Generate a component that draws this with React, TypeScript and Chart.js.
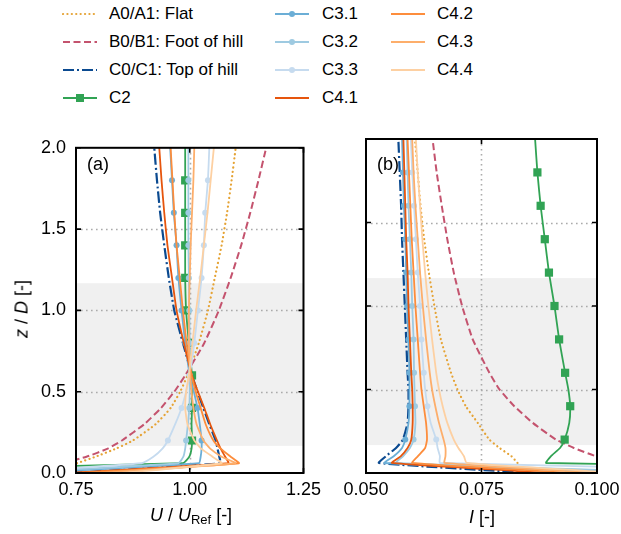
import React, { useEffect, useRef } from 'react';
import { Chart, registerables } from 'chart.js';

Chart.register(...registerables);

// ---------- data ----------
const Z = [0, 0.06, 0.1, 0.15, 0.2, 0.3, 0.4, 0.5, 0.6, 0.8, 1.0, 1.2, 1.4, 1.6, 1.8, 2.0];
const MARKER_Z = [0.2, 0.4, 0.6, 0.8, 1.0, 1.2, 1.4, 1.6, 1.8];

const SERIES_NAMES = ['A0/A1: Flat', 'B0/B1: Foot of hill', 'C0/C1: Top of hill', 'C2', 'C3.1', 'C3.2', 'C3.3', 'C4.1', 'C4.2', 'C4.3', 'C4.4'];

// U / U_Ref  (panel a)
const A0_U = [null, 0.752, 0.793, 0.838, 0.875, 0.925, 0.958, 0.979, 0.995, 1.02, 1.04, 1.055, 1.07, 1.082, 1.092, 1.101];
const B0_U = [null, 0.72, 0.773, 0.82, 0.851, 0.9, 0.937, 0.966, 0.99, 1.032, 1.064, 1.09, 1.113, 1.133, 1.151, 1.168];
const C0_U = [0.74, 1.067, 1.065, 1.061, 1.057, 1.043, 1.03, 1.017, 1.005, 0.985, 0.966, 0.954, 0.944, 0.935, 0.928, 0.922];
const C2_U = [0.06, 0.985, 0.999, 1.004, 1.005, 1.004, 1.005, 1.005, 1.005, 0.998, 0.992, 0.99, 0.99, 0.99, 0.99, 0.99];
const C31_U = [0.634, 1.02, 1.024, 1.026, 1.026, 1.022, 1.017, 1.009, 1.0, 0.99, 0.982, 0.975, 0.971, 0.965, 0.961, 0.957];
const C32_U = [0.589, 0.975, 0.986, 0.99, 0.992, 0.996, 0.999, 1.0, 1.0, 1.0, 0.999, 0.998, 0.997, 0.997, 0.997, 0.997];
const C33_U = [0.564, 0.894, 0.92, 0.94, 0.952, 0.968, 0.982, 0.992, 1.0, 1.01, 1.018, 1.026, 1.031, 1.034, 1.04, 1.043];
const C41_U = [0.73, 1.085, 1.078, 1.068, 1.06, 1.045, 1.032, 1.018, 1.005, 0.987, 0.971, 0.961, 0.951, 0.944, 0.938, 0.933];
const C42_U = [0.75, 1.108, 1.09, 1.068, 1.052, 1.035, 1.024, 1.013, 1.004, 0.993, 0.985, 0.978, 0.971, 0.966, 0.962, 0.958];
const C43_U = [0.8, 1.1, 1.07, 1.045, 1.03, 1.015, 1.008, 1.004, 1.001, 0.998, 0.998, 1.0, 1.002, 1.005, 1.008, 1.01];
const C44_U = [0.85, 1.07, 1.05, 1.025, 1.01, 0.995, 0.99, 0.992, 0.998, 1.006, 1.014, 1.023, 1.031, 1.039, 1.046, 1.053];

// I (panel b)
const A0_I = [null, 0.0828, 0.0815, 0.0789, 0.0767, 0.0742, 0.0716, 0.0698, 0.0684, 0.0662, 0.0648, 0.0636, 0.0626, 0.0618, 0.0612, 0.0606];
const B0_I = [null, 0.106, 0.0998, 0.095, 0.0911, 0.0861, 0.0821, 0.0789, 0.0767, 0.0731, 0.0708, 0.069, 0.0676, 0.0664, 0.0653, 0.0644];
const C0_I = [0.086, 0.0528, 0.0543, 0.0565, 0.058, 0.059, 0.0592, 0.0592, 0.059, 0.0587, 0.0584, 0.0581, 0.0578, 0.0576, 0.0573, 0.057];
const C2_I = [0.22, 0.089, 0.09, 0.092, 0.093, 0.094, 0.0942, 0.0938, 0.0931, 0.0918, 0.0908, 0.0896, 0.0887, 0.0878, 0.0871, 0.0866];
const C31_I = [0.1115, 0.054, 0.056, 0.0578, 0.0585, 0.0592, 0.0594, 0.0594, 0.0594, 0.0592, 0.0589, 0.0587, 0.0585, 0.0582, 0.058, 0.0578];
const C32_I = [0.122, 0.0565, 0.058, 0.0595, 0.0603, 0.0607, 0.0606, 0.0605, 0.0604, 0.0603, 0.06, 0.0598, 0.0595, 0.0592, 0.059, 0.0588];
const C33_I = [0.168, 0.066, 0.066, 0.0655, 0.0652, 0.064, 0.0633, 0.0628, 0.0625, 0.062, 0.0617, 0.0612, 0.0608, 0.0604, 0.06, 0.0597];
const C41_I = [0.09, 0.0556, 0.0575, 0.059, 0.0598, 0.0601, 0.0601, 0.06, 0.0598, 0.0595, 0.0592, 0.059, 0.0587, 0.0585, 0.0583, 0.0581];
const C42_I = [0.095, 0.06, 0.0612, 0.0628, 0.0632, 0.063, 0.0625, 0.062, 0.0617, 0.0612, 0.0607, 0.0603, 0.0599, 0.0596, 0.0593, 0.059];
const C43_I = [0.1, 0.067, 0.0672, 0.0672, 0.0668, 0.0658, 0.065, 0.0643, 0.0638, 0.063, 0.0623, 0.0617, 0.0612, 0.0607, 0.0603, 0.06];
const C44_I = [0.105, 0.0718, 0.0712, 0.07, 0.069, 0.0676, 0.0666, 0.0658, 0.0652, 0.0643, 0.0635, 0.0628, 0.0622, 0.0617, 0.0612, 0.0608];

const U_SERIES = [A0_U, B0_U, C0_U, C2_U, C31_U, C32_U, C33_U, C41_U, C42_U, C43_U, C44_U];
const I_SERIES = [A0_I, B0_I, C0_I, C2_I, C31_I, C32_I, C33_I, C41_I, C42_I, C43_I, C44_I];

const Y_TICKS = [0, 0.5, 1.0, 1.5, 2.0];
const X_TICKS_A = [0.75, 1.0, 1.25];
const X_TICKS_B = [0.05, 0.075, 0.1];
const GRID_Y = [0.5, 1.0, 1.5];
const GRID_X_A = [1.0];
const GRID_X_B = [0.075];
const ROTOR_BAND = [0.167, 1.167];

// ---------- styles ----------
const FONT = "'Liberation Sans', Arial, Helvetica, sans-serif";
const TICK_SIZE = 18;
const STYLES = [
  { color: '#e5a335', dash: [0.1, 4.3], width: 2.2, marker: null, cap: 'round' },
  { color: '#c4536e', dash: [7, 3.5], width: 2, marker: null, cap: 'butt' },
  { color: '#0b4a90', dash: [11, 3, 2, 3], width: 2.2, marker: null, cap: 'butt' },
  { color: '#31a354', dash: [], width: 1.8, marker: 'rect', cap: 'butt' },
  { color: '#6baed6', dash: [], width: 1.8, marker: 'circle', cap: 'butt' },
  { color: '#9ecae1', dash: [], width: 1.8, marker: 'circle', cap: 'butt' },
  { color: '#c6dbef', dash: [], width: 1.8, marker: 'circle', cap: 'butt' },
  { color: '#e6550d', dash: [], width: 1.8, marker: null, cap: 'butt' },
  { color: '#fd8d3c', dash: [], width: 1.8, marker: null, cap: 'butt' },
  { color: '#fdae6b', dash: [], width: 1.8, marker: null, cap: 'butt' },
  { color: '#fdd0a2', dash: [], width: 1.8, marker: null, cap: 'butt' },
];
const LEGEND_POS = [
  [0, 0], [0, 1], [0, 2], [0, 3],
  [1, 0], [1, 1], [1, 2], [1, 3],
  [2, 0], [2, 1], [2, 2],
];
const LEG_HANDLE_X = [62, 274, 390];
const LEG_TEXT_X = [109, 322, 437];
const LEG_ROW_Y = [14, 42, 70, 98];

const isMarkerZ = (z: number) => MARKER_Z.some((m) => Math.abs(m - z) < 1e-9);

function buildDatasets(series: (number | null)[][]) {
  const ds = series.map((vals, i) => {
    const st = STYLES[i];
    const data = Z.map((z, k) => ({ x: vals[k], y: z })).filter((p) => p.x !== null);
    return {
      label: SERIES_NAMES[i],
      data,
      showLine: true,
      borderColor: st.color,
      backgroundColor: st.color,
      borderWidth: st.width,
      borderDash: st.dash,
      borderCapStyle: st.cap,
      tension: 0.15,
      fill: false,
      pointStyle: st.marker || 'circle',
      pointBorderWidth: 0,
      pointRadius: (ctx: any) => {
        if (!st.marker || !ctx.raw) return 0;
        return isMarkerZ(ctx.raw.y) ? (st.marker === 'rect' ? 5.8 : 3) : 0;
      },
      pointHoverRadius: 0,
    };
  });
  return ds.reverse(); // first series drawn underneath
}

const decorPlugin = {
  id: 'decor',
  beforeDatasetsDraw(chart: any, _args: any, opts: any) {
    const { ctx, chartArea: a, scales } = chart;
    const x = scales.x, y = scales.y;
    ctx.save();
    const yTop = y.getPixelForValue(opts.band[1]);
    const yBot = y.getPixelForValue(opts.band[0]);
    ctx.fillStyle = '#f0f0f0';
    ctx.fillRect(a.left, yTop, a.right - a.left, yBot - yTop);
    ctx.strokeStyle = '#aaaaaa';
    ctx.lineWidth = 1.6;
    ctx.setLineDash([1.6, 3.4]);
    for (const gv of opts.gridY) {
      const py = Math.round(y.getPixelForValue(gv)) + 0.5;
      ctx.beginPath();
      ctx.moveTo(a.left, py);
      ctx.lineTo(a.right, py);
      ctx.stroke();
    }
    for (const gv of opts.gridX) {
      const px = Math.round(x.getPixelForValue(gv)) + 0.5;
      ctx.beginPath();
      ctx.moveTo(px, a.top);
      ctx.lineTo(px, a.bottom);
      ctx.stroke();
    }
    ctx.restore();
  },
  afterDraw(chart: any) {
    const { ctx, chartArea: a, scales } = chart;
    const x = scales.x, y = scales.y;
    ctx.save();
    ctx.strokeStyle = '#000';
    ctx.setLineDash([]);
    ctx.lineWidth = 1.6;
    const L = 5;
    for (const t of x.ticks) {
      const px = x.getPixelForValue(t.value);
      ctx.beginPath();
      ctx.moveTo(px, a.bottom);
      ctx.lineTo(px, a.bottom - L);
      ctx.moveTo(px, a.top);
      ctx.lineTo(px, a.top + L);
      ctx.stroke();
    }
    for (const t of y.ticks) {
      const py = y.getPixelForValue(t.value);
      ctx.beginPath();
      ctx.moveTo(a.left, py);
      ctx.lineTo(a.left + L, py);
      ctx.moveTo(a.right, py);
      ctx.lineTo(a.right - L, py);
      ctx.stroke();
    }
    ctx.lineWidth = 2;
    ctx.strokeRect(a.left, a.top, a.right - a.left, a.bottom - a.top);
    ctx.restore();
  },
};

function makeConfig(series: (number | null)[][], xMin: number, xMax: number, xTicks: number[], xDigits: number, gridX: number[], showY: boolean, yWidth: number, padRight: number) {
  return {
    type: 'scatter',
    data: { datasets: buildDatasets(series) },
    plugins: [decorPlugin],
    options: {
      animation: false,
      responsive: false,
      events: [],
      layout: { padding: { top: 12, right: padRight, left: 0, bottom: 0 } },
      plugins: {
        legend: { display: false },
        tooltip: { enabled: false },
        decor: { band: ROTOR_BAND, gridY: GRID_Y, gridX },
      },
      scales: {
        x: {
          type: 'linear',
          min: xMin,
          max: xMax,
          afterBuildTicks: (s: any) => { s.ticks = xTicks.map((v) => ({ value: v })); },
          afterFit: (s: any) => { s.height = 34; },
          grid: { display: false, drawTicks: false },
          border: { display: false },
          ticks: {
            callback: (v: any) => Number(v).toFixed(xDigits),
            font: { family: FONT, size: TICK_SIZE },
            color: '#000',
            padding: 6,
            maxRotation: 0,
            autoSkip: false,
          },
        },
        y: {
          type: 'linear',
          min: 0,
          max: 2,
          afterBuildTicks: (s: any) => { s.ticks = Y_TICKS.map((v) => ({ value: v })); },
          afterFit: (s: any) => { s.width = yWidth; },
          grid: { display: false, drawTicks: false },
          border: { display: false },
          ticks: {
            display: showY,
            callback: (v: any) => Number(v).toFixed(1),
            font: { family: FONT, size: TICK_SIZE },
            color: '#000',
            padding: 10,
            autoSkip: false,
          },
        },
      },
    },
  };
}

function LegendHandle({ idx }: { idx: number }) {
  const st = STYLES[idx];
  return (
    <svg width={36} height={14} style={{ position: 'absolute', left: LEG_HANDLE_X[LEGEND_POS[idx][0]], top: LEG_ROW_Y[LEGEND_POS[idx][1]] - 7 }}>
      <line x1={1} y1={7} x2={35} y2={7} stroke={st.color} strokeWidth={st.width} strokeDasharray={st.dash.length ? st.dash.join(' ') : undefined} strokeLinecap={st.cap as any} />
      {st.marker === 'rect' && <rect x={14} y={3} width={8} height={8} fill={st.color} />}
      {st.marker === 'circle' && <circle cx={18} cy={7} r={3} fill={st.color} />}
    </svg>
  );
}

export default function App() {
  const refA = useRef<HTMLCanvasElement>(null);
  const refB = useRef<HTMLCanvasElement>(null);

  useEffect(() => {
    const a = new Chart(refA.current as HTMLCanvasElement, makeConfig(U_SERIES, 0.75, 1.25, X_TICKS_A, 2, GRID_X_A, true, 76, 20) as any);
    const b = new Chart(refB.current as HTMLCanvasElement, makeConfig(I_SERIES, 0.05, 0.1, X_TICKS_B, 3, GRID_X_B, false, 36, 53) as any);
    return () => { a.destroy(); b.destroy(); };
  }, []);

  const txt: React.CSSProperties = { position: 'absolute', fontFamily: FONT, fontSize: 17, lineHeight: '17px', color: '#000', whiteSpace: 'nowrap' };

  return (
    <div style={{ position: 'absolute', left: 0, top: 0, width: 621, height: 534, overflow: 'hidden', background: '#fff' }}>
      {SERIES_NAMES.map((n, i) => (
        <React.Fragment key={n}>
          <LegendHandle idx={i} />
          <div style={{ ...txt, left: LEG_TEXT_X[LEGEND_POS[i][0]], top: LEG_ROW_Y[LEGEND_POS[i][1]] - 9 }}>{n}</div>
        </React.Fragment>
      ))}
      <canvas ref={refA} width={327} height={380} style={{ position: 'absolute', left: 0, top: 127 }} />
      <canvas ref={refB} width={320} height={380} style={{ position: 'absolute', left: 330, top: 127 }} />
      <div style={{ ...txt, fontSize: 18, left: 87, top: 156 }}>(a)</div>
      <div style={{ ...txt, fontSize: 18, left: 377, top: 156 }}>(b)</div>
      <div style={{ ...txt, fontSize: 18, left: 22, top: 309, transform: 'translate(-50%, -50%) rotate(-90deg)' }}>
        <i>z</i> / <i>D</i> [-]
      </div>
      <div style={{ ...txt, fontSize: 18, left: 191, top: 517, transform: 'translate(-50%, -50%)' }}>
        <i>U</i> / <i>U</i><sub style={{ fontSize: 13, verticalAlign: '-3px' }}>Ref</sub> [-]
      </div>
      <div style={{ ...txt, fontSize: 18, left: 482, top: 517, transform: 'translate(-50%, -50%)' }}>
        <i>I</i> [-]
      </div>
    </div>
  );
}
